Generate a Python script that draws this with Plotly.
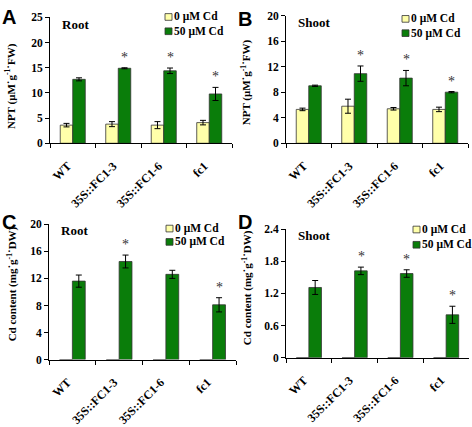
import plotly.graph_objects as go

categories = ["WT", "35S::FC1-3", "35S::FC1-6", "fc1"]

# Panel A: NPT root
a_0cd = [3.6, 3.8, 3.6, 4.1]
a_0cd_err = [0.35, 0.5, 0.7, 0.45]
a_50cd = [12.7, 14.9, 14.4, 9.8]
a_50cd_err = [0.3, 0.1, 0.55, 1.3]
a_star = [False, True, True, True]

# Panel B: NPT shoot
b_0cd = [5.3, 5.8, 5.4, 5.3]
b_0cd_err = [0.2, 1.1, 0.2, 0.35]
b_50cd = [9.0, 10.9, 10.2, 8.0]
b_50cd_err = [0.1, 1.2, 1.2, 0.1]
b_star = [False, True, True, True]

# Panel C: Cd content root
c_0cd = [0, 0, 0, 0]
c_50cd = [11.6, 14.5, 12.6, 8.1]
c_50cd_err = [0.9, 0.95, 0.6, 1.05]
c_star = [False, True, False, True]

# Panel D: Cd content shoot
d_0cd = [0, 0, 0, 0]
d_50cd = [1.31, 1.62, 1.57, 0.80]
d_50cd_err = [0.13, 0.07, 0.07, 0.16]
d_star = [False, True, True, True]

legend_names = ["0 \u03bcM Cd", "50 \u03bcM Cd"]

W, H = 472, 427
LIGHT = "#FFFFAA"
GREEN = "#0A7D0A"
SERIF = "Liberation Serif"

def px_x(p):
    return p / W

def px_y(p):
    return 1 - p / H

NPT = "NPT (\u03bcM\u02d9g<sup>-1</sup>\u02d9FW)"
CDC = "Cd content (mg\u02d9g<sup>-1</sup>\u02d9DW)"

panels = [
    dict(key="", x0=50, x1=232, y0=12, y1=144, v0=a_0cd, e0=a_0cd_err, v1=a_50cd, e1=a_50cd_err,
         star=a_star, ymax=25, dtick=5, ytitle=NPT, tx=10, ty=84, letter="A", lt=3,
         label="Root", lgx=165, lgy=(8, 23)),
    dict(key="2", x0=286, x1=468, y0=10, y1=144, v0=b_0cd, e0=b_0cd_err, v1=b_50cd, e1=b_50cd_err,
         star=b_star, ymax=20, dtick=4, ytitle=NPT, tx=246, ty=80, letter="B", lt=5,
         label="Shoot", lgx=402, lgy=(10, 25)),
    dict(key="3", x0=49, x1=236, y0=229, y1=371, v0=c_0cd, e0=None, v1=c_50cd, e1=c_50cd_err,
         star=c_star, ymax=20, dtick=4, ytitle=CDC, tx=12, ty=292, letter="C", lt=218,
         label="Root", lgx=166, lgy=(230, 244)),
    dict(key="4", x0=286, x1=469, y0=234, y1=369, v0=d_0cd, e0=None, v1=d_50cd, e1=d_50cd_err,
         star=d_star, ymax=2.4, dtick=0.6, ytitle=CDC, tx=247, ty=296, letter="D", lt=218,
         label="Shoot", lgx=413, lgy=(231, 247)),
]

fig = go.Figure()
annotations = []
shapes = []

for p in panels:
    xa = "x" + p["key"]
    ya = "y" + p["key"]
    err0 = dict(type="data", array=p["e0"], color="black", thickness=1, width=3) if p["e0"] else None
    fig.add_trace(go.Bar(
        x=categories, y=p["v0"], name=legend_names[0], xaxis=xa, yaxis=ya,
        marker=dict(color=LIGHT, line=dict(color="#333333", width=0.8)),
        error_y=err0, showlegend=False,
    ))
    fig.add_trace(go.Bar(
        x=categories, y=p["v1"], name=legend_names[1], xaxis=xa, yaxis=ya,
        marker=dict(color=GREEN, line=dict(color="#333333", width=0.8)),
        error_y=dict(type="data", array=p["e1"], color="black", thickness=1, width=3),
        showlegend=False,
    ))
    xd = [px_x(p["x0"]), px_x(p["x1"])]
    yd = [px_y(p["y1"]), px_y(p["y0"])]
    fig.layout["xaxis" + p["key"]] = dict(
        domain=xd, anchor=ya, type="category", showgrid=False, showline=True,
        linecolor="black", linewidth=1, ticks="outside", tickson="boundaries",
        ticklen=4, tickcolor="black", tickangle=-45,
        ticklabelstandoff=10, ticklabelshift=-5,
        tickfont=dict(family=SERIF, size=12, color="black", weight="bold"),
        range=[-0.5, 3.5],
    )
    fig.layout["yaxis" + p["key"]] = dict(
        domain=yd, anchor=xa, range=[0, p["ymax"]], dtick=p["dtick"], showgrid=False,
        showline=True, linecolor="black", linewidth=1, ticks="outside", ticklen=4,
        tickcolor="black", zeroline=False,
        tickfont=dict(family=SERIF, size=11.5, color="black", weight="bold"),
    )
    # y-axis title
    annotations.append(dict(
        x=px_x(p["tx"]), y=px_y(p["ty"]), xref="paper", yref="paper",
        text="<b>" + p["ytitle"] + "</b>", showarrow=False, textangle=-90,
        xanchor="center", yanchor="middle",
        font=dict(family=SERIF, size=11, color="black"),
    ))
    # asterisks
    for i, s in enumerate(p["star"]):
        if s:
            annotations.append(dict(
                x=categories[i], y=p["v1"][i] + p["e1"][i], xref=xa, yref=ya,
                text="*", showarrow=False, yanchor="bottom", xshift=6.5, yshift=1,
                font=dict(family=SERIF, size=14, color="#333333"),
            ))
    # panel letter
    annotations.append(dict(
        x=0 if p["x0"] < 200 else px_x(236), y=px_y(p["lt"] - 5), xref="paper", yref="paper",
        text="<b>" + p["letter"] + "</b>", showarrow=False, xanchor="left", yanchor="top",
        font=dict(family="Liberation Sans", size=20, color="black"),
    ))
    # sub-label Root / Shoot
    annotations.append(dict(
        x=px_x(p["x0"] + 10), y=px_y(p["y0"] - 3), xref="paper", yref="paper",
        text="<b>" + p["label"] + "</b>", showarrow=False, xanchor="left", yanchor="top",
        font=dict(family=SERIF, size=13, color="black"),
    ))
    # legend boxes and texts
    lx = p["lgx"]
    for j, (nm, col) in enumerate(zip(legend_names, [LIGHT, GREEN])):
        ly = p["lgy"][j]
        shapes.append(dict(
            type="rect", xref="paper", yref="paper",
            x0=px_x(lx), x1=px_x(lx + 7), y0=px_y(ly + 7), y1=px_y(ly),
            fillcolor=col, line=dict(color="#333333", width=0.8),
        ))
        annotations.append(dict(
            x=px_x(lx + 7), y=px_y(ly + 3.5), xref="paper", yref="paper",
            text="<b>" + nm + "</b>", showarrow=False, xanchor="left", yanchor="middle",
            font=dict(family=SERIF, size=11.5, color="black"),
        ))

fig.update_layout(
    width=W, height=H, margin=dict(l=0, r=0, t=0, b=0),
    paper_bgcolor="white", plot_bgcolor="white",
    barmode="group", bargap=0.45, bargroupgap=0,
    annotations=annotations, shapes=shapes, showlegend=False,
)

fig.write_html("out.html", config={"displayModeBar": False},
               post_script="document.body.style.margin='0px';")
